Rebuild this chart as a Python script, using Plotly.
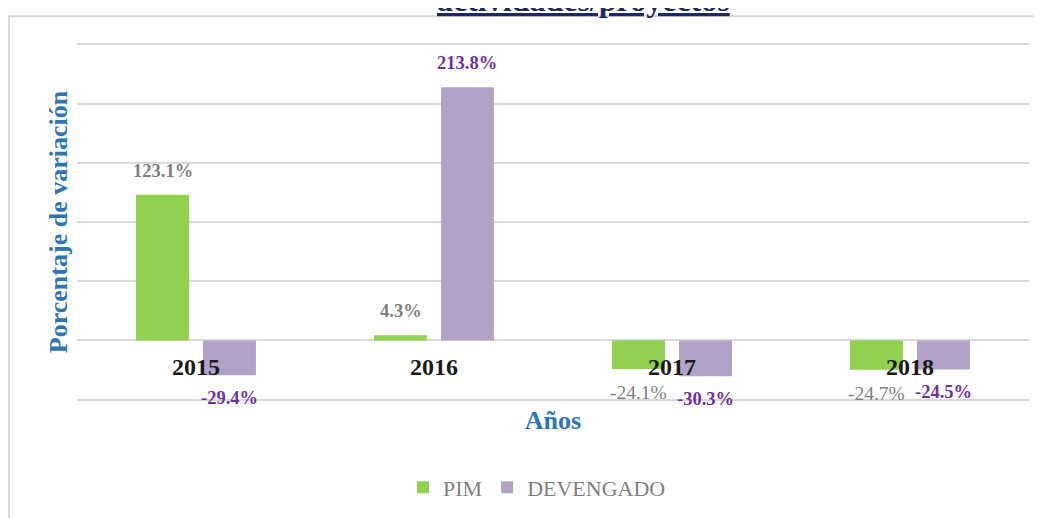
import plotly.graph_objects as go

years = ["2015", "2016", "2017", "2018"]
pim = [123.1, 4.3, -24.1, -24.7]
devengado = [-29.4, 213.8, -30.3, -24.5]
series_names = ["PIM", "DEVENGADO"]
colors = ["#92D050", "#B3A2C7"]
label_colors = ["#7F7F7F", "#7030A0"]
title_text = "actividades/proyectos"
y_title = "Porcentaje de variación"
x_title = "Años"

FONT = "Liberation Serif"
W, H = 1042, 518
OFF = 8                      # page body margin offset
Y0, Y1 = -52, 252            # slight padding so edge gridlines are drawn
K = 355 / 300                # px per unit
REF_L, REF_R = 77, 1029
REF_ZERO = 340
plot_top = REF_ZERO - Y1 * K
plot_bot = REF_ZERO - Y0 * K
plot_w = REF_R - REF_L
plot_h = plot_bot - plot_top
ML = REF_L - OFF
MR = W - (REF_R - OFF)
MT = plot_top - OFF
MB = H - (plot_bot - OFF)


def px(xr):
    return (xr - REF_L) / plot_w


def py(yr):
    return (plot_bot - yr) / plot_h


bargap = 0.437
bargroupgap = 0.21

fig = go.Figure()
for name, vals, col in zip(series_names, [pim, devengado], colors):
    fig.add_trace(go.Bar(x=years, y=vals, name=name, marker_color=col,
                         marker_line_width=0))

# data labels
cat_w = plot_w / len(years)
slot = cat_w * (1 - bargap) / 2
annotations = []
for si, vals in enumerate([pim, devengado]):
    shift = (si - 0.5) * slot
    for i, v in enumerate(vals):
        txt = f"{v:.1f}%"
        if si == 0 and v < 0:
            txt_f = txt
            size = 19.5
        else:
            txt_f = f"<b>{txt}</b>"
            size = 18.5
        annotations.append(dict(
            x=i, y=v, xref="x", yref="y", text=txt_f, showarrow=False,
            xshift=shift, yanchor="bottom" if v >= 0 else "top",
            yshift=12 if v >= 0 else -11,
            font=dict(family=FONT, size=size, color=label_colors[si])))

annotations.append(dict(
    text=f"<b><u>{title_text}</u></b>", xref="paper", yref="paper",
    x=px(583), y=py(20), xanchor="center",
    yanchor="bottom", showarrow=False,
    font=dict(family=FONT, size=32, color="#1F2860")))

fig.update_layout(
    width=W, height=H,
    margin=dict(l=ML, r=MR, t=MT, b=MB, autoexpand=False),
    paper_bgcolor="white", plot_bgcolor="white",
    barmode="group", bargap=bargap, bargroupgap=bargroupgap,
    annotations=annotations,
    showlegend=True,
    legend=dict(orientation="h", x=px(537), xanchor="center",
                y=py(487), yanchor="middle",
                font=dict(family=FONT, size=22, color="#7F7F7F")),
    xaxis=dict(type="category", range=[-0.5, len(years) - 0.5],
               anchor="free", position=(0 - Y0) / (Y1 - Y0), showgrid=False,
               showline=False, ticks="", zeroline=False, automargin=False,
               tickfont=dict(family=FONT, size=24, color="#1a1a1a", weight="bold"),
               ticklabelstandoff=10,
               title=dict(text=f"<b>{x_title}</b>", standoff=31,
                          font=dict(family=FONT, size=26, color="#2E75B6"))),
    yaxis=dict(range=[Y0, Y1], tick0=0, dtick=50, showticklabels=False,
               automargin=False,
               showgrid=True, gridcolor="#D9D9D9", gridwidth=1.5,
               zeroline=True, zerolinecolor="#D9D9D9", zerolinewidth=1.5,
               title=dict(text=f"<b>{y_title}</b>", standoff=0,
                          font=dict(family=FONT, size=26, color="#2E75B6"))),
    shapes=[dict(type="rect", xref="paper", yref="paper",
                 x0=px(9), x1=1.2, y0=-0.6, y1=py(16),
                 line=dict(color="#D9D9D9", width=2), layer="below")],
)

fig.write_html("out.html")
